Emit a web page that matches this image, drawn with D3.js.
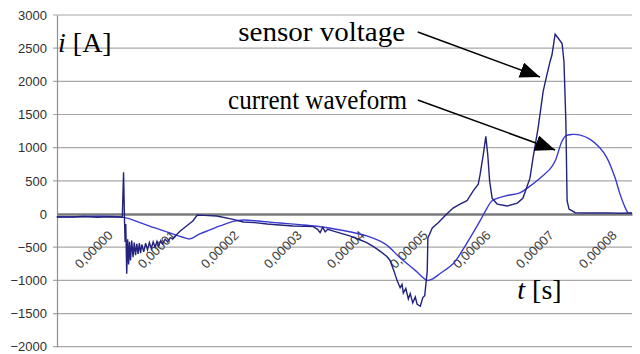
<!DOCTYPE html>
<html><head><meta charset="utf-8">
<script src="https://cdn.jsdelivr.net/npm/d3@7"></script>
<style>body{margin:0;background:#fff}svg{display:block}</style>
</head><body><svg id="c" width="640" height="354"></svg>
<script>
// time in microseconds, current in A
const yTicks = [3000,2500,2000,1500,1000,500,0,-500,-1000,-1500,-2000];
const xTicks = [0,10,20,30,40,50,60,70,80];
const xTickLabels = ["0,00000","0,00001","0,00002","0,00003","0,00004","0,00005","0,00006","0,00007","0,00008"];
const sensorVoltage = [[-9.4,-40],[-7,-45],[-5,-38],[-3,-48],[-1,-42],[1.0,-45],[1.2,630],[1.35,-100],[1.45,-420],[1.55,-150],[1.7,-900],[1.85,-380],[2.0,-760],[2.15,-420],[2.3,-700],[2.5,-400],[2.7,-650],[2.9,-430],[3.1,-620],[3.3,-450],[3.5,-600],[3.7,-440],[3.9,-590],[4.1,-460],[4.4,-570],[4.7,-440],[5.0,-540],[5.3,-430],[5.6,-520],[5.9,-420],[6.2,-500],[6.5,-410],[6.8,-480],[7.1,-400],[7.4,-450],[7.8,-380],[8.2,-420],[8.6,-360],[9.0,-370],[10.2,-255],[11.2,-180],[12.2,-105],[12.9,-15],[14,-20],[16,-30],[18.6,-80],[20.2,-120],[22,-130],[24,-150],[26,-165],[28.1,-180],[30,-185],[31.3,-190],[32,-230],[32.4,-280],[32.8,-200],[33.2,-270],[33.6,-230],[34.4,-255],[36,-300],[37.1,-330],[38.5,-380],[39.8,-430],[41,-500],[41.9,-560],[43,-640],[43.5,-700],[44.2,-880],[44.6,-1000],[45.1,-1110],[45.4,-1060],[45.6,-1190],[46,-1120],[46.4,-1280],[46.7,-1200],[47.1,-1340],[47.5,-1250],[47.8,-1360],[48.3,-1390],[48.7,-1260],[49.0,-1230],[49.4,-860],[49.5,-360],[50.2,-210],[51.1,-135],[52.5,0],[53.5,90],[54.6,150],[55.7,200],[56.7,350],[57.5,450],[57.8,600],[58.3,900],[58.7,1170],[59.0,900],[59.3,500],[59.7,240],[60.5,150],[62.1,120],[63.7,165],[64.6,240],[65.7,540],[66.2,850],[67.0,1300],[67.8,1850],[68.4,2100],[68.9,2300],[69.2,2400],[69.7,2710],[70.2,2650],[70.8,2570],[71.1,2300],[71.4,1400],[71.6,200],[71.9,75],[72.9,20],[75,15],[78,18],[80,12],[81.9,15]];
const currentWaveform = [[-9.4,-50],[1.2,-50],[3.8,-130],[6.2,-210],[9.0,-300],[10.6,-350],[11.7,-375],[13.3,-300],[14.9,-240],[16.5,-180],[18.6,-110],[20.2,-90],[22.9,-110],[26.0,-135],[29.2,-160],[31.9,-185],[35.6,-240],[39.8,-330],[42.7,-450],[45.1,-660],[47.5,-850],[49.4,-1000],[50.2,-980],[51.4,-900],[53.5,-750],[54.9,-560],[56.2,-360],[57.8,-100],[58.9,90],[59.7,200],[61.7,270],[64.1,320],[65.7,420],[67.3,540],[68.9,680],[69.7,800],[70.8,1100],[71.4,1180],[72.4,1200],[73.7,1190],[75.2,1130],[76.8,1000],[77.9,850],[79.2,550],[80.0,300],[80.8,100],[81.3,15],[81.9,10]];
// annotations in data units
const annotations = [
  {text:"sensor voltage", t:45.9, v:2608, width:167, from:[47.9,2744], to:[67.3,2065]},
  {text:"current waveform", t:46.2, v:1583, width:179, from:[47.9,1719], to:[69.7,965]}
];

const svg = d3.select("#c");
const x = d3.scaleLinear().domain([-9.365, 81.9]).range([57, 632]);
const y = d3.scaleLinear().domain([-2000, 3000]).range([346.7, 15]);
const sans = "'Liberation Sans',Arial,sans-serif";
const serif = "'Liberation Serif','Times New Roman',serif";

// gridlines
svg.append("g").selectAll("line").data(yTicks.filter(d=>d!==0)).join("line")
  .attr("x1", 53).attr("x2", 632).attr("y1", d=>y(d)).attr("y2", d=>y(d))
  .attr("stroke", "#a8a8a8").attr("stroke-width", 1.2);
// y axis
const yAxis = d3.axisLeft(y).tickValues(yTicks).tickSize(0).tickPadding(10).tickFormat(d3.format("d"));
const gy = svg.append("g").attr("transform","translate(57,0)").call(yAxis);
gy.select(".domain").attr("stroke","#909090").attr("stroke-width",1.2);
gy.selectAll("text").attr("font-family",sans).attr("font-size",13).attr("fill","#303030");

// x axis (zero line)
const xAxis = d3.axisBottom(x).tickValues(xTicks).tickSize(0).tickFormat((d,i)=>xTickLabels[i]);
const gx = svg.append("g").attr("transform",`translate(0,${y(0)})`).call(xAxis);
gx.select(".domain").attr("stroke","#7a7a7a").attr("stroke-width",2.6);
gx.selectAll("text").attr("font-family",sans).attr("font-size",13).attr("fill","#404040")
  .attr("text-anchor","end").attr("dy",0).attr("y",0)
  .attr("transform","translate(-3,22) rotate(-45)");

// series
svg.append("path").datum(currentWaveform).attr("fill","none").attr("stroke","#3a3ad2").attr("stroke-width",1.4)
  .attr("d", d3.line().x(d=>x(d[0])).y(d=>y(d[1])).curve(d3.curveCatmullRom));
svg.append("path").datum(sensorVoltage).attr("fill","none").attr("stroke","#23237e").attr("stroke-width",1.4)
  .attr("d", d3.line().x(d=>x(d[0])).y(d=>y(d[1])));

// annotations
svg.append("defs").append("marker").attr("id","ah").attr("viewBox","0 0 20 16").attr("refX",20).attr("refY",8)
  .attr("markerWidth",20).attr("markerHeight",16).attr("markerUnits","userSpaceOnUse").attr("orient","auto")
  .append("path").attr("d","M0,0L20,8L0,16Z").attr("fill","#000");
annotations.forEach(a=>{
  svg.append("line").attr("x1",x(a.from[0])).attr("y1",y(a.from[1])).attr("x2",x(a.to[0])).attr("y2",y(a.to[1]))
    .attr("stroke","#000").attr("stroke-width",1.5).attr("marker-end","url(#ah)");
  svg.append("text").attr("x",x(a.t)-a.width).attr("y",y(a.v))
    .attr("textLength",a.width).attr("lengthAdjust","spacingAndGlyphs")
    .attr("font-family",serif).attr("font-size",27).attr("fill","#000").text(a.text);
});
// axis titles
const ty = svg.append("text").attr("x",x(-9.2)).attr("y",y(2442)).attr("font-family",serif).attr("font-size",28);
ty.append("tspan").attr("font-style","italic").text("i");
ty.append("tspan").text(" [A]");
const tx = svg.append("text").attr("x",x(63.7)).attr("y",y(-1281)).attr("font-family",serif).attr("font-size",28);
tx.append("tspan").attr("font-style","italic").text("t");
tx.append("tspan").text(" [s]");
</script></body></html>
